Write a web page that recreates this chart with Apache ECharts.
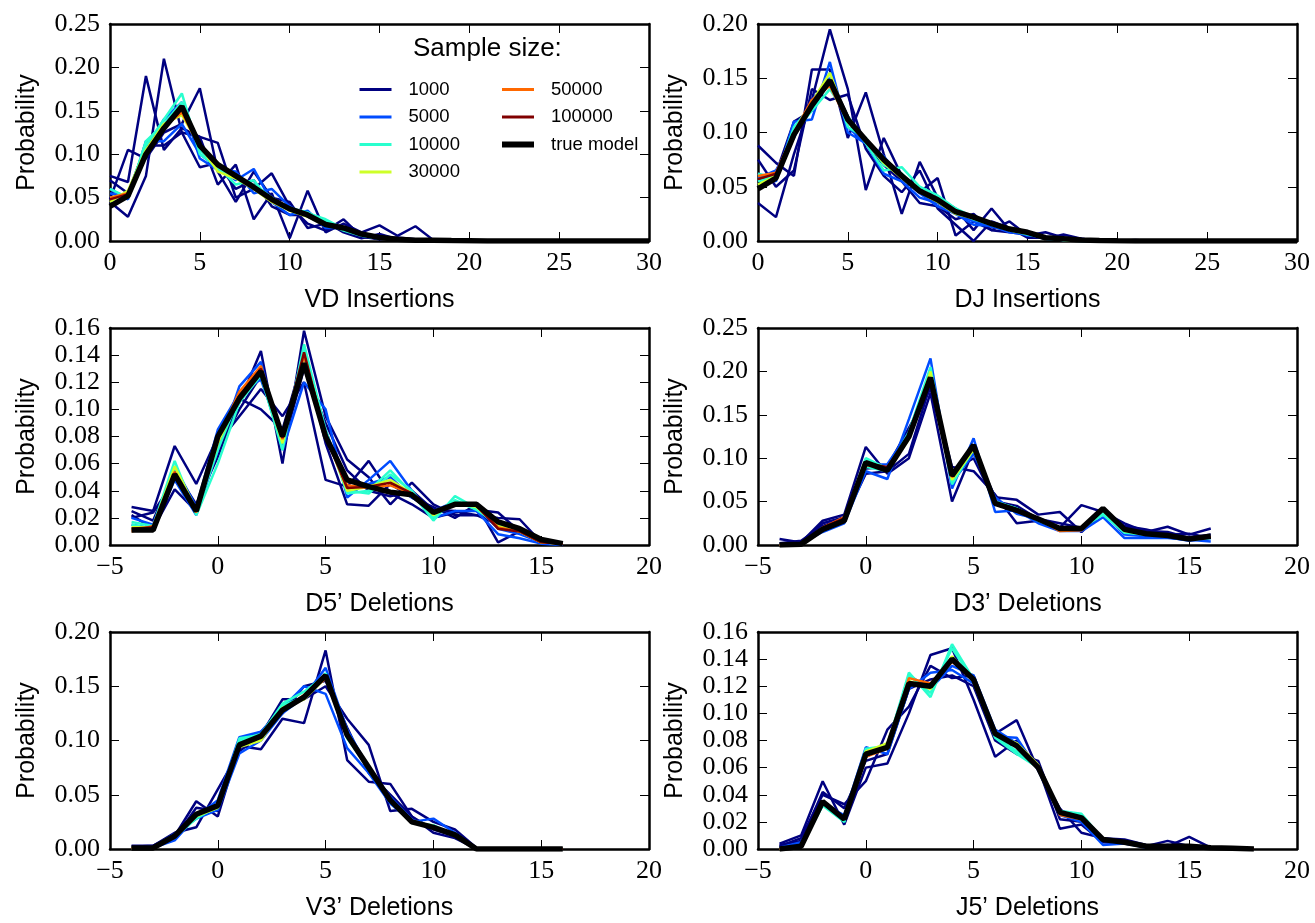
<!DOCTYPE html>
<html>
<head>
<meta charset="utf-8">
<script src="https://cdn.jsdelivr.net/npm/echarts@6/dist/echarts.min.js"></script>
<style>
  html, body { margin: 0; background: #fff; }
  #chart { width: 1315px; height: 923px; }
</style>
</head>
<body>
<div id="chart"></div>
<script>
// ---- data ----
var sizeNames = ['1000', '5000', '10000', '30000', '50000', '100000'];
var sizeColors = ['#000080', '#004cff', '#29ffce', '#ceff29', '#ff6800', '#800000'];

var insX = [0,1,2,3,4,5,6,7,8,9,10,11,12,13,14,15,16,17,18,19,20,21,22,23,24,25,26,27,28,29,30];
var delX = [-4,-3,-2,-1,0,1,2,3,4,5,6,7,8,9,10,11,12,13,14,15,16];
var j5X = [-4,-3,-2,-1,0,1,2,3,4,5,6,7,8,9,10,11,12,13,14,15,16,17,18];

// VD insertions
var vdTrue = [0.040,0.052,0.100,0.130,0.155,0.110,0.088,0.075,0.062,0.048,0.037,0.030,0.019,0.015,0.008,0.004,0.002,0.001,0.001,0.0005,0.0003,0,0,0,0,0,0,0,0,0,0];
var vd1000 = [
  [0.075,0.068,0.190,0.105,0.130,0.120,0.113,0.050,0.060,0.078,0.040,0.020,0.012,0.025,0.005,0.003,0.002,0.001,0,0,0,0,0,0,0,0,0,0,0,0,0],
  [0.045,0.028,0.075,0.210,0.125,0.120,0.065,0.088,0.025,0.055,0.003,0.058,0.010,0.020,0.010,0.018,0.006,0.017,0.001,0.001,0,0,0,0,0,0,0,0,0,0,0],
  [0.048,0.105,0.095,0.125,0.135,0.176,0.080,0.045,0.080,0.050,0.045,0.015,0.020,0.012,0.005,0.002,0.004,0.002,0.002,0,0.001,0,0,0,0,0,0,0,0,0,0],
  [0.070,0.055,0.110,0.110,0.125,0.085,0.090,0.060,0.070,0.040,0.030,0.030,0.022,0.010,0.003,0.008,0.002,0.002,0.001,0.001,0,0,0,0,0,0,0,0,0,0,0]
];
var vd5000 = [
  [0.060,0.048,0.115,0.115,0.135,0.100,0.085,0.070,0.083,0.045,0.030,0.035,0.015,0.015,0.006,0.003,0.002,0.001,0.001,0,0,0,0,0,0,0,0,0,0,0,0],
  [0.055,0.050,0.105,0.140,0.160,0.095,0.082,0.080,0.055,0.060,0.040,0.028,0.020,0.014,0.007,0.004,0.002,0.001,0.001,0,0,0,0,0,0,0,0,0,0,0,0]
];
var vd10000 = [
  [0.050,0.055,0.110,0.140,0.170,0.100,0.085,0.065,0.070,0.045,0.038,0.033,0.022,0.012,0.006,0.003,0.002,0.001,0,0,0,0,0,0,0,0,0,0,0,0,0],
  [0.060,0.050,0.115,0.135,0.160,0.105,0.082,0.072,0.065,0.050,0.036,0.032,0.025,0.014,0.007,0.003,0.002,0.001,0,0,0,0,0,0,0,0,0,0,0,0,0]
];
var vd30000 = [0.045,0.058,0.105,0.135,0.145,0.110,0.080,0.072,0.060,0.045,0.035,0.028,0.019,0.015,0.007,0.004,0.002,0.001,0.001,0,0,0,0,0,0,0,0,0,0,0,0];
var vd50000 = [0.050,0.055,0.100,0.132,0.148,0.108,0.086,0.074,0.062,0.046,0.036,0.030,0.019,0.015,0.008,0.004,0.002,0.001,0.001,0,0,0,0,0,0,0,0,0,0,0,0];
var vd100000 = [0.048,0.054,0.101,0.130,0.152,0.110,0.087,0.075,0.061,0.047,0.037,0.029,0.019,0.015,0.008,0.004,0.002,0.001,0.001,0,0,0,0,0,0,0,0,0,0,0,0];

// DJ insertions
var djTrue = [0.048,0.058,0.098,0.125,0.148,0.112,0.093,0.075,0.060,0.046,0.038,0.027,0.022,0.016,0.011,0.008,0.003,0.002,0.001,0.0005,0.0002,0,0,0,0,0,0,0,0,0,0];
var dj1000 = [
  [0.088,0.072,0.060,0.158,0.158,0.095,0.137,0.080,0.025,0.073,0.040,0.030,0.010,0.030,0.010,0.008,0.002,0.006,0.002,0,0,0.001,0,0,0,0,0,0,0,0,0],
  [0.035,0.022,0.080,0.130,0.195,0.140,0.047,0.095,0.060,0.045,0.058,0.005,0.018,0.010,0.018,0.005,0.008,0.003,0.002,0,0,0,0,0,0,0,0,0,0,0,0],
  [0.075,0.050,0.065,0.140,0.130,0.135,0.085,0.060,0.045,0.065,0.030,0.015,0.000,0.018,0.012,0.003,0.003,0.002,0.001,0.001,0,0,0,0,0,0,0,0,0,0,0],
  [0.055,0.062,0.110,0.120,0.150,0.115,0.090,0.070,0.055,0.035,0.032,0.020,0.025,0.010,0.008,0.006,0.002,0.001,0,0,0,0,0,0,0,0,0,0,0,0,0]
];
var dj5000 = [
  [0.062,0.055,0.110,0.112,0.165,0.100,0.090,0.062,0.055,0.040,0.035,0.025,0.015,0.014,0.008,0.006,0.002,0.001,0,0,0,0,0,0,0,0,0,0,0,0,0],
  [0.058,0.065,0.095,0.130,0.150,0.105,0.090,0.078,0.058,0.044,0.032,0.025,0.018,0.013,0.010,0.005,0.004,0.001,0,0,0,0,0,0,0,0,0,0,0,0,0]
];
var dj10000 = [
  [0.055,0.060,0.100,0.120,0.140,0.115,0.090,0.065,0.068,0.050,0.042,0.030,0.022,0.015,0.010,0.007,0.002,0.001,0,0,0,0,0,0,0,0,0,0,0,0,0],
  [0.062,0.058,0.105,0.125,0.155,0.105,0.095,0.070,0.062,0.045,0.040,0.028,0.020,0.015,0.010,0.006,0.003,0.001,0,0,0,0,0,0,0,0,0,0,0,0,0]
];
var dj30000 = [0.052,0.060,0.098,0.128,0.155,0.110,0.092,0.072,0.058,0.045,0.036,0.025,0.021,0.016,0.010,0.007,0.003,0.001,0,0,0,0,0,0,0,0,0,0,0,0,0];
var dj50000 = [0.060,0.063,0.100,0.130,0.143,0.110,0.093,0.075,0.060,0.045,0.038,0.027,0.022,0.016,0.011,0.008,0.003,0.002,0.001,0,0,0,0,0,0,0,0,0,0,0,0];
var dj100000 = [0.057,0.062,0.099,0.127,0.146,0.111,0.093,0.075,0.060,0.046,0.038,0.027,0.022,0.016,0.011,0.008,0.003,0.002,0.001,0,0,0,0,0,0,0,0,0,0,0,0];

// D5' deletions
var d5True = [0.011,0.011,0.052,0.025,0.080,0.108,0.128,0.080,0.134,0.080,0.048,0.043,0.039,0.037,0.024,0.030,0.030,0.017,0.012,0.004,0.001];
var d51000 = [
  [0.028,0.025,0.073,0.045,0.080,0.105,0.143,0.060,0.158,0.095,0.063,0.050,0.030,0.046,0.030,0.022,0.022,0.020,0.019,0.002,0.001],
  [0.022,0.012,0.041,0.025,0.075,0.095,0.115,0.095,0.120,0.048,0.043,0.062,0.038,0.030,0.020,0.024,0.026,0.024,0.010,0.003,0.001],
  [0.025,0.018,0.055,0.030,0.065,0.108,0.100,0.085,0.140,0.075,0.030,0.029,0.045,0.035,0.028,0.020,0.030,0.002,0.010,0.004,0.001],
  [0.020,0.024,0.048,0.028,0.070,0.100,0.125,0.072,0.130,0.090,0.055,0.040,0.036,0.040,0.026,0.025,0.022,0.015,0.012,0.003,0.001]
];
var d55000 = [
  [0.015,0.012,0.048,0.022,0.070,0.117,0.135,0.070,0.120,0.100,0.035,0.048,0.062,0.040,0.020,0.025,0.025,0.008,0.005,0.001,0.000],
  [0.020,0.015,0.058,0.028,0.085,0.112,0.122,0.078,0.140,0.085,0.040,0.045,0.050,0.035,0.025,0.032,0.028,0.012,0.008,0.002,0.001]
];
var d510000 = [
  [0.017,0.014,0.062,0.022,0.060,0.105,0.125,0.070,0.148,0.085,0.038,0.040,0.055,0.038,0.018,0.036,0.027,0.014,0.010,0.002,0.001],
  [0.015,0.012,0.058,0.024,0.070,0.110,0.128,0.075,0.145,0.082,0.040,0.038,0.052,0.040,0.020,0.033,0.026,0.015,0.010,0.002,0.001]
];
var d530000 = [0.013,0.013,0.058,0.026,0.075,0.110,0.128,0.075,0.140,0.082,0.040,0.043,0.048,0.038,0.022,0.031,0.028,0.014,0.010,0.002,0.001];
var d550000 = [0.010,0.014,0.054,0.024,0.078,0.113,0.132,0.078,0.140,0.080,0.044,0.042,0.044,0.038,0.024,0.030,0.029,0.013,0.010,0.002,0.001];
var d5100000 = [0.012,0.013,0.053,0.025,0.079,0.110,0.130,0.079,0.142,0.080,0.042,0.043,0.046,0.038,0.024,0.030,0.029,0.012,0.010,0.002,0.001];

// D3' deletions
var d3True = [0.000,0.001,0.018,0.028,0.095,0.086,0.125,0.193,0.080,0.115,0.048,0.040,0.030,0.019,0.019,0.042,0.018,0.013,0.011,0.007,0.010];
var d31000 = [
  [0.007,0.003,0.028,0.035,0.113,0.082,0.100,0.175,0.050,0.110,0.055,0.052,0.035,0.038,0.015,0.038,0.025,0.015,0.021,0.012,0.019],
  [0.002,0.005,0.022,0.030,0.082,0.085,0.105,0.185,0.090,0.085,0.058,0.025,0.028,0.020,0.046,0.038,0.020,0.016,0.015,0.008,0.012],
  [0.000,0.002,0.025,0.032,0.088,0.090,0.135,0.180,0.085,0.100,0.050,0.045,0.030,0.025,0.020,0.040,0.022,0.018,0.012,0.013,0.008]
];
var d35000 = [
  [0.000,0.002,0.015,0.025,0.085,0.076,0.145,0.215,0.065,0.123,0.038,0.040,0.025,0.016,0.016,0.032,0.008,0.008,0.008,0.006,0.004],
  [0.001,0.001,0.020,0.027,0.092,0.093,0.130,0.200,0.072,0.105,0.055,0.036,0.030,0.018,0.018,0.038,0.012,0.010,0.009,0.005,0.008]
];
var d310000 = [
  [0.000,0.001,0.018,0.030,0.100,0.088,0.128,0.198,0.070,0.112,0.050,0.042,0.028,0.018,0.020,0.035,0.014,0.012,0.010,0.006,0.009],
  [0.000,0.001,0.020,0.030,0.090,0.085,0.130,0.205,0.072,0.110,0.050,0.042,0.029,0.019,0.019,0.036,0.015,0.012,0.010,0.006,0.008]
];
var d330000 = [0.000,0.001,0.019,0.029,0.093,0.087,0.122,0.200,0.075,0.110,0.049,0.040,0.030,0.018,0.019,0.040,0.016,0.012,0.010,0.006,0.009];
var d350000 = [0.000,0.001,0.020,0.032,0.092,0.089,0.124,0.190,0.078,0.113,0.049,0.039,0.030,0.016,0.017,0.041,0.017,0.012,0.010,0.006,0.009];
var d3100000 = [0.000,0.001,0.020,0.031,0.094,0.090,0.125,0.192,0.079,0.114,0.048,0.040,0.030,0.018,0.018,0.041,0.017,0.013,0.011,0.006,0.009];

// V3' deletions
var v3True = [0.001,0.001,0.012,0.032,0.040,0.096,0.104,0.128,0.140,0.160,0.105,0.075,0.045,0.025,0.020,0.013,0.000,0.000,0.000,0.000,0.000];
var v31000 = [
  [0.003,0.003,0.012,0.044,0.030,0.095,0.092,0.120,0.116,0.183,0.082,0.062,0.060,0.030,0.015,0.010,0.000,0.000,0.000,0.000,0.000],
  [0.002,0.003,0.015,0.020,0.055,0.090,0.105,0.138,0.138,0.150,0.120,0.096,0.035,0.037,0.025,0.018,0.001,0.000,0.000,0.000,0.000],
  [0.001,0.002,0.010,0.038,0.035,0.100,0.108,0.125,0.150,0.155,0.112,0.070,0.050,0.030,0.018,0.012,0.000,0.000,0.000,0.000,0.000]
];
var v35000 = [
  [0.001,0.001,0.008,0.030,0.045,0.103,0.108,0.130,0.150,0.143,0.093,0.070,0.042,0.025,0.028,0.015,0.000,0.000,0.000,0.000,0.000],
  [0.001,0.002,0.014,0.028,0.036,0.088,0.100,0.125,0.140,0.167,0.110,0.075,0.048,0.027,0.020,0.012,0.000,0.000,0.000,0.000,0.000]
];
var v310000 = [
  [0.001,0.001,0.011,0.028,0.040,0.100,0.106,0.132,0.140,0.162,0.104,0.073,0.044,0.024,0.022,0.012,0.000,0.000,0.000,0.000,0.000],
  [0.001,0.001,0.012,0.030,0.038,0.102,0.105,0.134,0.145,0.160,0.102,0.074,0.045,0.025,0.021,0.013,0.000,0.000,0.000,0.000,0.000]
];
var v330000 = [0.001,0.001,0.011,0.030,0.038,0.094,0.100,0.130,0.138,0.158,0.106,0.075,0.046,0.026,0.021,0.012,0.000,0.000,0.000,0.000,0.000];
var v350000 = [0.001,0.001,0.012,0.031,0.040,0.095,0.103,0.127,0.142,0.157,0.105,0.075,0.045,0.025,0.020,0.013,0.000,0.000,0.000,0.000,0.000];
var v3100000 = [0.001,0.001,0.012,0.032,0.040,0.096,0.104,0.128,0.141,0.159,0.105,0.075,0.045,0.025,0.020,0.013,0.000,0.000,0.000,0.000,0.000];

// J5' deletions
var j5True = [0.000,0.002,0.035,0.022,0.070,0.075,0.122,0.120,0.140,0.125,0.085,0.076,0.060,0.027,0.023,0.007,0.005,0.002,0.002,0.002,0.001,0.0005,0.000];
var j51000 = [
  [0.004,0.010,0.050,0.018,0.060,0.063,0.100,0.143,0.148,0.110,0.068,0.080,0.060,0.015,0.018,0.005,0.004,0.002,0.006,0.002,0.001,0.000,0.000],
  [0.002,0.008,0.040,0.033,0.050,0.088,0.105,0.135,0.126,0.128,0.085,0.095,0.058,0.030,0.012,0.008,0.007,0.003,0.002,0.009,0.001,0.000,0.000],
  [0.003,0.006,0.042,0.030,0.065,0.070,0.118,0.125,0.128,0.120,0.080,0.070,0.065,0.022,0.020,0.006,0.005,0.001,0.003,0.002,0.001,0.000,0.000]
];
var j55000 = [
  [0.001,0.005,0.033,0.025,0.075,0.070,0.118,0.130,0.132,0.122,0.083,0.082,0.058,0.025,0.020,0.003,0.004,0.001,0.003,0.002,0.001,0.000,0.000],
  [0.001,0.003,0.035,0.024,0.068,0.076,0.128,0.118,0.135,0.128,0.088,0.078,0.060,0.028,0.025,0.006,0.005,0.002,0.002,0.002,0.001,0.000,0.000]
];
var j510000 = [
  [0.000,0.002,0.033,0.020,0.074,0.076,0.130,0.112,0.151,0.125,0.082,0.070,0.060,0.028,0.026,0.007,0.005,0.002,0.002,0.002,0.001,0.000,0.000],
  [0.000,0.002,0.032,0.020,0.072,0.074,0.128,0.115,0.148,0.124,0.083,0.072,0.061,0.027,0.025,0.007,0.005,0.002,0.002,0.002,0.001,0.000,0.000]
];
var j530000 = [0.000,0.002,0.034,0.022,0.072,0.078,0.124,0.118,0.142,0.124,0.084,0.078,0.062,0.026,0.022,0.007,0.005,0.002,0.002,0.002,0.001,0.000,0.000];
var j550000 = [0.000,0.002,0.034,0.022,0.068,0.074,0.126,0.122,0.138,0.126,0.086,0.076,0.061,0.025,0.022,0.007,0.005,0.002,0.002,0.002,0.001,0.000,0.000];
var j5100000 = [0.000,0.002,0.035,0.022,0.069,0.075,0.122,0.121,0.140,0.125,0.085,0.077,0.060,0.027,0.023,0.007,0.005,0.002,0.002,0.002,0.001,0.000,0.000];

// ---- panel setup ----
var panels = [
  { xs: insX, reps: [vd1000, vd5000, vd10000, [vd30000], [vd50000], [vd100000]], truth: vdTrue,
    title: 'VD Insertions', xMin: 0, xMax: 30, yMax: 0.25, yStep: 0.05, left: 110, top: 24 },
  { xs: insX, reps: [dj1000, dj5000, dj10000, [dj30000], [dj50000], [dj100000]], truth: djTrue,
    title: 'DJ Insertions', xMin: 0, xMax: 30, yMax: 0.20, yStep: 0.05, left: 758, top: 24 },
  { xs: delX, reps: [d51000, d55000, d510000, [d530000], [d550000], [d5100000]], truth: d5True,
    title: 'D5\u2019 Deletions', xMin: -5, xMax: 20, yMax: 0.16, yStep: 0.02, left: 110, top: 328 },
  { xs: delX, reps: [d31000, d35000, d310000, [d330000], [d350000], [d3100000]], truth: d3True,
    title: 'D3\u2019 Deletions', xMin: -5, xMax: 20, yMax: 0.25, yStep: 0.05, left: 758, top: 328 },
  { xs: delX, reps: [v31000, v35000, v310000, [v330000], [v350000], [v3100000]], truth: v3True,
    title: 'V3\u2019 Deletions', xMin: -5, xMax: 20, yMax: 0.20, yStep: 0.05, left: 110, top: 632 },
  { xs: j5X, reps: [j51000, j55000, j510000, [j530000], [j550000], [j5100000]], truth: j5True,
    title: 'J5\u2019 Deletions', xMin: -5, xMax: 20, yMax: 0.16, yStep: 0.02, left: 758, top: 632 }
];

var serif = 'Liberation Serif';
var sans = 'Liberation Sans';

function pairs(xs, ys) {
  return xs.map(function (x, i) { return [x, ys[i]]; });
}
function xFmt(v) { return v < 0 ? '\u2212' + Math.abs(v) : String(v); }
function yFmt(v) { return v.toFixed(2); }

var axisLine = { show: true, onZero: false, lineStyle: { color: '#000', width: 2.5 } };
var axisTick = { show: true, inside: true, length: 9, lineStyle: { color: '#000', width: 1 } };

var grids = [], xAxes = [], yAxes = [], series = [];

panels.forEach(function (p, i) {
  grids.push({ left: p.left, top: p.top, width: 539, height: 217 });
  // bottom / top x axes
  xAxes.push({
    type: 'value', gridIndex: i, position: 'bottom', min: p.xMin, max: p.xMax, interval: 5,
    name: p.title, nameLocation: 'middle', nameGap: 47,
    nameTextStyle: { fontFamily: sans, fontSize: 25, color: '#000' },
    axisLine: axisLine, axisTick: axisTick, splitLine: { show: false },
    axisLabel: { margin: 9, fontFamily: serif, fontSize: 26, color: '#000', formatter: xFmt }
  });
  xAxes.push({
    type: 'value', gridIndex: i, position: 'top', min: p.xMin, max: p.xMax, interval: 5,
    axisLine: axisLine, axisTick: axisTick, splitLine: { show: false }, axisLabel: { show: false }
  });
  // left / right y axes
  yAxes.push({
    type: 'value', gridIndex: i, position: 'left', min: 0, max: p.yMax, interval: p.yStep,
    name: 'Probability', nameLocation: 'middle', nameGap: 70,
    nameTextStyle: { fontFamily: sans, fontSize: 25, color: '#000' },
    axisLine: axisLine, axisTick: axisTick, splitLine: { show: false },
    axisLabel: { margin: 10, fontFamily: serif, fontSize: 26, color: '#000', formatter: yFmt }
  });
  yAxes.push({
    type: 'value', gridIndex: i, position: 'right', min: 0, max: p.yMax, interval: p.yStep,
    axisLine: axisLine, axisTick: axisTick, splitLine: { show: false }, axisLabel: { show: false }
  });

  p.reps.forEach(function (group, k) {
    group.forEach(function (ys) {
      series.push({
        type: 'line', name: sizeNames[k], xAxisIndex: 2 * i, yAxisIndex: 2 * i,
        data: pairs(p.xs, ys), symbol: 'none', color: sizeColors[k],
        lineStyle: { color: sizeColors[k], width: 2.5 }, silent: true
      });
    });
  });
  series.push({
    type: 'line', name: 'true model', xAxisIndex: 2 * i, yAxisIndex: 2 * i,
    data: pairs(p.xs, p.truth), symbol: 'none', color: '#000',
    lineStyle: { color: '#000', width: 5.5 }, silent: true
  });
});

var legendText = { fontFamily: sans, fontSize: 18.5, color: '#000', padding: [0, 0, 0, 12] };
var legendSymbol = { opacity: 0, borderWidth: 0 };
function legendItem(name) {
  return { name: name, lineStyle: { width: name === 'true model' ? 6 : 3 } };
}

var myChart = echarts.init(document.getElementById('chart'));
myChart.setOption({
  animation: false,
  backgroundColor: '#fff',
  grid: grids,
  xAxis: xAxes,
  yAxis: yAxes,
  legend: [
    { data: ['1000', '5000', '10000', '30000'].map(legendItem), orient: 'vertical', left: 353, top: 75,
      itemWidth: 32, itemHeight: 18, itemGap: 8.5, selectedMode: false,
      itemStyle: legendSymbol, textStyle: legendText },
    { data: ['50000', '100000', 'true model'].map(legendItem), orient: 'vertical', left: 494, top: 75,
      itemWidth: 32, itemHeight: 18, itemGap: 8.5, selectedMode: false,
      itemStyle: legendSymbol, textStyle: legendText }
  ],
  graphic: [{
    type: 'text', left: 413, top: 36,
    style: { text: 'Sample size:', font: '26px "Liberation Sans"', fill: '#000' }
  }],
  series: series
});
</script>
</body>
</html>
